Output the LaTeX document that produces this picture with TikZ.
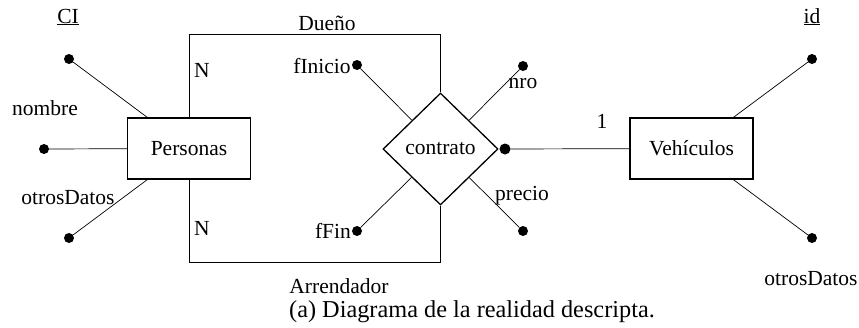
\documentclass[tikz,border=0pt]{standalone}
\usepackage{fontspec}
\setmainfont{Liberation Serif}
\usetikzlibrary{shapes.geometric}
\begin{document}
\begin{tikzpicture}[x=1pt,y=-1pt,
  every node/.style={font=\fontsize{21.5}{25}\selectfont},
  entity/.style={draw, line width=1.3pt, minimum width=123pt, minimum height=61pt, inner sep=0pt},
  rel/.style={draw, diamond, line width=1.3pt, minimum width=115pt, minimum height=112pt, inner sep=0pt},
  attr/.style={circle, fill, draw=none, inner sep=0pt, minimum size=10pt},
  conn/.style={line width=0.7pt},
  lbl/.style={inner sep=0pt, anchor=base},
  caption/.style={inner sep=0pt, anchor=base, font=\fontsize{24.3}{28}\selectfont}
]
\useasboundingbox (0,0) rectangle (859,327);

% entities and relationship
\node[entity] (pers) at (189,148.5) {Personas};
\node[entity] (veh) at (691.5,148.5) {Vehículos};
\node[rel] (contr) at (440.5,149) {contrato};

% attribute dots
\node[attr] (ci) at (69,59) {};
\node[attr] (nom) at (44,149) {};
\node[attr] (otl) at (69,238) {};
\node[attr] (fini) at (357,65) {};
\node[attr] (ffin) at (357,231) {};
\node[attr] (nro) at (523,66) {};
\node[attr] (pre) at (523,231) {};
\node[attr, minimum size=11pt] (cdot) at (505,149) {};
\node[attr] (id) at (812,59) {};
\node[attr] (otr) at (812,238) {};

% connectors
\draw[conn] (ci) -- (pers);
\draw[conn] (nom) -- (pers);
\draw[conn] (otl) -- (pers);
\draw[conn] (fini) -- (contr);
\draw[conn] (ffin) -- (contr);
\draw[conn] (nro) -- (contr);
\draw[conn] (pre) -- (contr);
\draw[conn] (cdot) -- (veh);
\draw[conn] (id) -- (veh);
\draw[conn] (otr) -- (veh);
\draw[conn] (pers.north) -- ++(0,-83) -| (contr.north);
\draw[conn] (pers.south) -- ++(0,82.5) -| (contr.south);

% labels
\node[lbl] (lci) at (68,23) {\underline{CI}};
\node[lbl] (ldue) at (327,30) {Dueño};
\node[lbl] (ln1) at (202,77) {N};
\node[lbl] (lfini) at (322,73) {fInicio};
\node[lbl] (lnom) at (45,115) {nombre};
\node[lbl] (lotl) at (68,204) {otrosDatos};
\node[lbl] (ln2) at (202,235) {N};
\node[lbl] (lffin) at (333,238) {fFin};
\node[lbl] (larr) at (339,293) {Arrendador};
\node[lbl] (lid) at (812,23) {\underline{id}};
\node[lbl] (lnro) at (523,88) {nro};
\node[lbl] (lone) at (602,128) {1};
\node[lbl] (lpre) at (522,200) {precio};
\node[lbl] (lotr) at (811,285) {otrosDatos};
\node[caption] (cap) at (472,317) {(a) Diagrama de la realidad descripta.};
\end{tikzpicture}
\end{document}
